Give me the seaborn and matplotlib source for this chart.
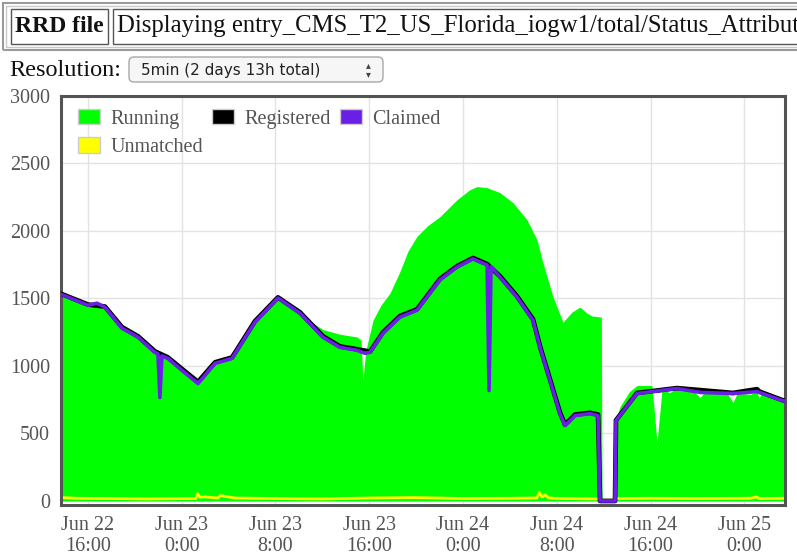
import numpy as np
import pandas as pd
import seaborn as sns
import matplotlib.pyplot as plt
from matplotlib.patches import Patch, Rectangle, FancyBboxPatch
from matplotlib.transforms import IdentityTransform

## data (hours since Jun 22 0:00)
running_h = [13.70, 16.00, 16.77, 17.45, 18.90, 20.27, 21.72, 22.83, 24.02, 25.39,
             26.84, 28.29, 30.25, 32.21, 34.09, 35.00, 36.05, 37.50, 38.95, 39.30,
             39.46, 39.70, 40.32, 41.00, 41.77, 42.62, 43.30, 44.07, 45.00, 46.03,
             47.49, 48.59, 49.19, 50.05, 51.15, 52.26, 53.46, 54.31, 54.82, 55.68,
             56.53, 57.30, 57.98, 58.58, 59.00, 59.80, 59.86, 60.97, 61.05, 61.40,
             62.20, 62.84, 64.12, 64.55, 64.97, 65.66, 66.25, 67.50, 68.22, 68.60,
             69.50, 70.60, 71.03, 71.40, 72.50, 73.08, 73.25, 73.45, 74.50, 75.47]
running_v = [1545, 1465, 1480, 1450, 1295, 1225, 1115, 1070, 980, 885,
             1035, 1070, 1340, 1520, 1420, 1330, 1270, 1235, 1215, 1190,
             893, 1110, 1339, 1450, 1540, 1700, 1850, 1960, 2040, 2106,
             2232, 2306, 2329, 2321, 2284, 2210, 2083, 1934, 1763, 1510,
             1324, 1400, 1436, 1391, 1370, 1362, 0, 0, 600, 700,
             810, 855, 855, 432, 820, 804, 840, 830, 766, 805,
             800, 790, 729, 800, 790, 810, 760, 800, 780, 745]

registered_h = [13.70, 16.00, 17.45, 18.90, 20.27, 21.72, 22.83, 24.02, 25.39, 26.84,
                28.29, 30.25, 32.21, 34.09, 36.05, 37.50, 38.95, 40.06, 41.17, 42.62,
                44.07, 46.03, 47.49, 48.85, 50.05, 51.15, 52.60, 53.97, 54.57, 55.42,
                56.27, 56.70, 57.55, 58.83, 59.52, 59.69, 60.97, 61.05, 62.84, 66.25,
                71.03, 73.08, 73.30, 75.21, 75.47]
registered_v = [1535, 1455, 1440, 1288, 1220, 1108, 1063, 978, 882, 1027,
                1063, 1332, 1508, 1397, 1220, 1145, 1124, 1106, 1250, 1370,
                1420, 1645, 1740, 1800, 1755, 1665, 1517, 1346, 1145, 900,
                655, 565, 640, 653, 640, 0, 0, 598, 800, 836,
                800, 828, 810, 748, 743]

claimed_h = [13.70, 13.87, 16.00, 16.77, 17.45, 18.90, 20.27, 21.72, 21.97, 22.14,
             22.31, 22.83, 24.02, 25.39, 26.84, 28.29, 30.25, 32.21, 34.09, 36.05,
             37.50, 38.95, 39.63, 40.06, 41.17, 42.62, 44.07, 46.03, 47.49, 48.85,
             50.05, 50.22, 50.39, 51.15, 52.60, 53.97, 54.57, 55.42, 56.27, 56.70,
             57.55, 58.83, 59.52, 59.69, 60.97, 61.05, 62.84, 64.12, 66.25, 68.22,
             71.03, 73.08, 75.21, 75.47]
claimed_v = [1530, 1525, 1450, 1465, 1435, 1280, 1213, 1100, 1090, 766,
             1075, 1056, 967, 870, 1019, 1056, 1324, 1503, 1391, 1213,
             1138, 1116, 1094, 1101, 1242, 1362, 1413, 1637, 1733, 1793,
             1748, 818, 1735, 1659, 1510, 1339, 1138, 893, 647, 558,
             632, 647, 632, 0, 0, 595, 796, 810, 833, 804,
             796, 810, 744, 740]

unmatched_h = [13.70, 15.00, 18.00, 21.00, 25.20, 25.35, 25.55, 26.00, 27.10, 27.30,
               28.50, 32.00, 36.00, 40.00, 44.00, 48.00, 52.00, 54.30, 54.50, 54.75,
               55.00, 55.30, 56.50, 59.60, 59.70, 60.97, 61.05, 64.00, 68.00, 72.50,
               73.00, 73.30, 75.47]
unmatched_v = [25, 20, 18, 15, 18, 55, 28, 30, 22, 40,
               22, 18, 15, 22, 25, 18, 20, 22, 62, 30,
               45, 22, 18, 15, 0, 0, 18, 20, 18, 20,
               30, 18, 20]

tick_hours = [16, 24, 32, 40, 48, 56, 64, 72]
tick_labels = ["Jun 22\n16:00", "Jun 23\n0:00", "Jun 23\n8:00", "Jun 23\n16:00",
               "Jun 24\n0:00", "Jun 24\n8:00", "Jun 24\n16:00", "Jun 25\n0:00"]
y_ticks = [0, 500, 1000, 1500, 2000, 2500, 3000]

base = pd.Timestamp("2013-06-22")


def to_time(h):
    return base + pd.to_timedelta(np.asarray(h, dtype=float), unit="h")


## style
sns.set_style("white")
plt.rcParams['font.family'] = ['Liberation Serif', 'DejaVu Serif']
gray = '#545454'
green = '#00ff00'
purple = '#6a1fe6'
yellow = '#ffff00'

W, H = 797, 555
fig = plt.figure(figsize=(W / 100, H / 100), dpi=100)


def fx(x):
    return x / W


def fy(y):
    return 1 - y / H


## page header (table + resolution dropdown)
ident = IdentityTransform()
fig.add_artist(Rectangle((3, H - 50), 820, 47, transform=ident, fill=False,
                         edgecolor='#9a9a9a', lw=1.5))
fig.add_artist(Rectangle((6, H - 47), 820, 41, transform=ident, fill=False,
                         edgecolor='#c8c8c8', lw=1))
fig.add_artist(Rectangle((11, H - 44), 97, 35, transform=ident, fill=False,
                         edgecolor='#555555', lw=1))
fig.add_artist(Rectangle((113, H - 44), 720, 35, transform=ident, fill=False,
                         edgecolor='#555555', lw=1))
fig.text(fx(15), fy(26), "RRD file", fontsize=17, fontweight='bold', va='center',
         color='#111111')
fig.text(fx(117), fy(26), "Displaying entry_CMS_T2_US_Florida_iogw1/total/Status_Attributes",
         fontsize=17.8, va='center', color='#111111')

fig.text(fx(9), fy(70), "Resolution:", fontsize=17.5, va='center', color='#111111')
fig.add_artist(FancyBboxPatch((129, H - 82), 254, 25, transform=ident,
                              boxstyle="round,pad=0,rounding_size=5",
                              facecolor='#f6f6f6', edgecolor='#a8a8a8', lw=1))
fig.text(fx(141), fy(70), "5min (2 days 13h total)", fontsize=11, va='center',
         family='DejaVu Sans', color='#222222')
fig.text(fx(368), fy(70), "\u25B4\n\u25BE", fontsize=7, va='center', ha='center',
         linespacing=0.9, family='DejaVu Sans', color='#444444')

## chart
ax = fig.add_axes([fx(61), fy(505), (785 - 61) / W, 409 / H])

ax.fill_between(to_time(running_h), 0, running_v, color=green, lw=0, zorder=1)
sns.lineplot(x=to_time(unmatched_h), y=unmatched_v, ax=ax, color=yellow, lw=2,
             estimator=None, sort=False, zorder=2)
sns.lineplot(x=to_time(registered_h), y=registered_v, ax=ax, color='black', lw=3.4,
             estimator=None, sort=False, zorder=3)
sns.lineplot(x=to_time(claimed_h), y=claimed_v, ax=ax, color=purple, lw=2.6,
             estimator=None, sort=False, zorder=4)

ax.set_xlim(to_time([13.70])[0], to_time([75.47])[0])
ax.set_ylim(-30, 3000)
ax.set_xticks(to_time(tick_hours))
ax.set_xticklabels(tick_labels)
ax.set_yticks(y_ticks)
ax.set_yticklabels([str(v) for v in y_ticks])
ax.tick_params(axis='both', length=0, labelsize=14.5, labelcolor=gray)
ax.tick_params(axis='x', pad=8)
ax.tick_params(axis='y', pad=8)
for lab in ax.get_xticklabels():
    lab.set_linespacing(1.15)
ax.set_xlabel('')
ax.set_ylabel('')
ax.grid(True, color='#e3e3e3', lw=1)
ax.set_axisbelow(True)
for s in ax.spines.values():
    s.set_color(gray)
    s.set_linewidth(2.2)
    s.set_visible(True)

handles = [Patch(facecolor=green, edgecolor='#cccccc', lw=1, label='Running'),
           Patch(facecolor=yellow, edgecolor='#cccccc', lw=1, label='Unmatched'),
           Patch(facecolor='black', edgecolor='#cccccc', lw=1, label='Registered'),
           Patch(facecolor=purple, edgecolor='#cccccc', lw=1, label='Claimed')]
leg = ax.legend(handles=handles, loc='upper left', bbox_to_anchor=(17 / 724, 0.968),
                ncol=3, frameon=False, fontsize=14.5, borderpad=0, borderaxespad=0,
                handlelength=1.1, handleheight=0.8, handletextpad=0.5,
                columnspacing=0.45, labelspacing=0.42)
for t in leg.get_texts():
    t.set_color(gray)

plt.savefig('out.png', dpi=100)
